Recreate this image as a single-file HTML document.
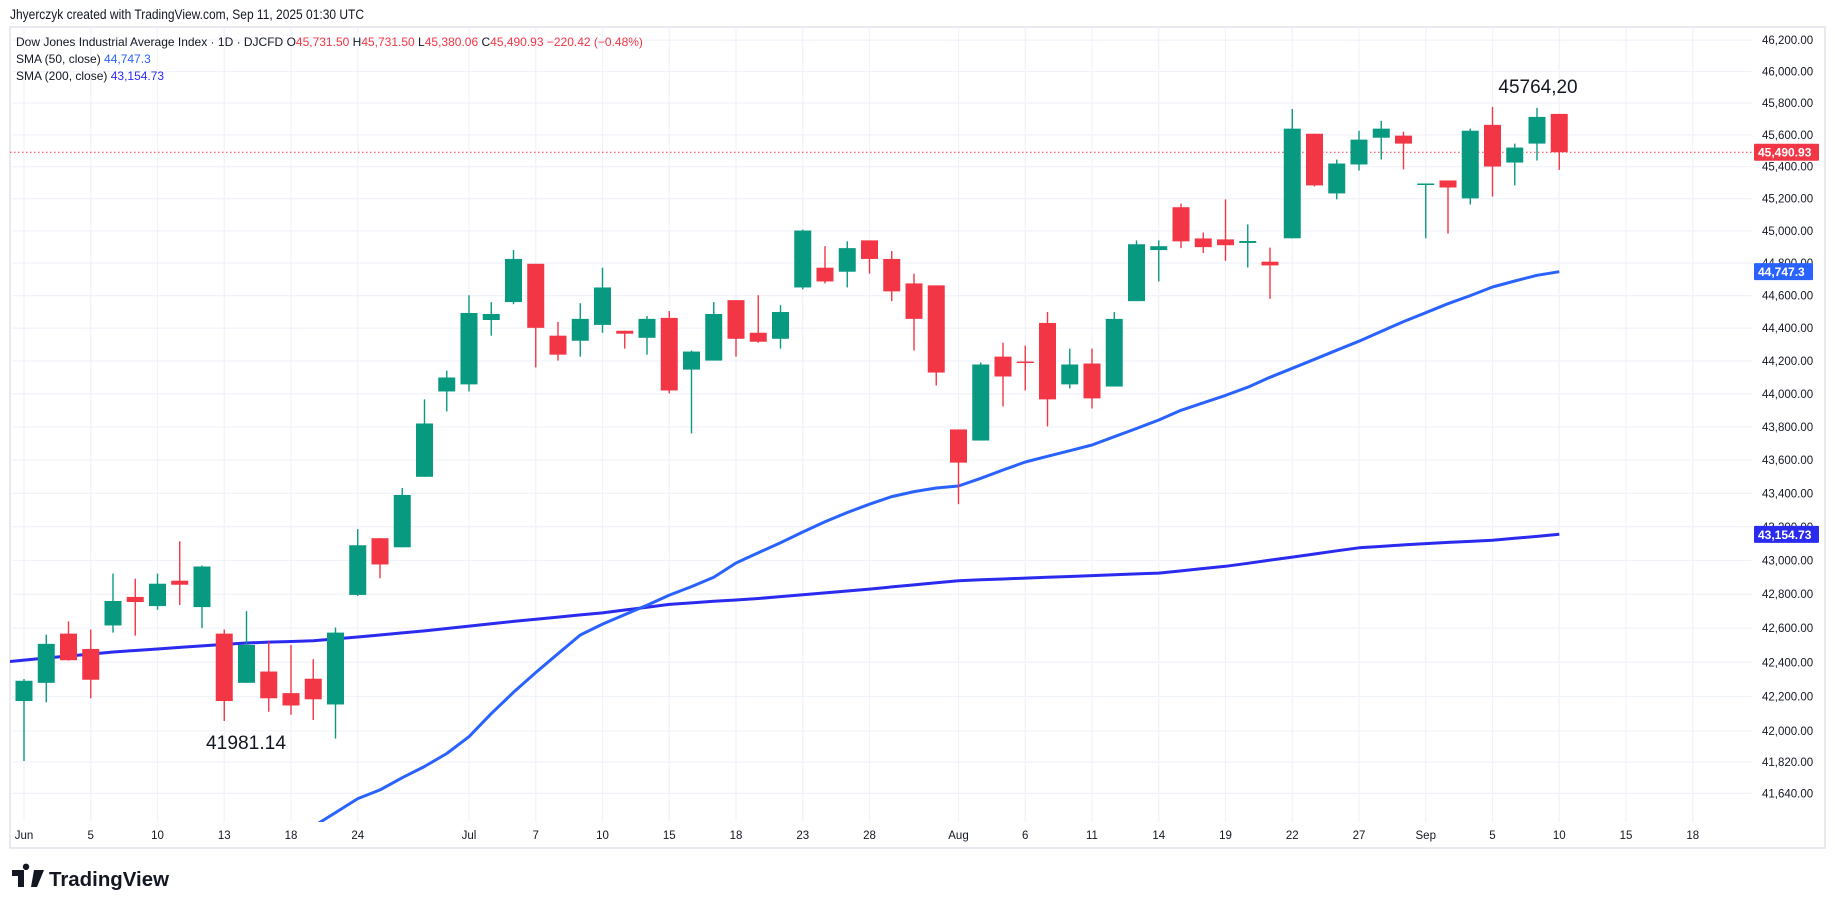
<!DOCTYPE html>
<html><head><meta charset="utf-8"><style>
html,body{margin:0;padding:0;background:#fff;}
svg{display:block;font-family:"Liberation Sans",sans-serif;}
</style></head><body>
<svg id="chart" width="1835" height="909" viewBox="0 0 1835 909" xmlns="http://www.w3.org/2000/svg">
<rect x="0" y="0" width="1835" height="909" fill="#fff"/>
<text x="10" y="19" font-size="14" fill="#131722" textLength="354" lengthAdjust="spacingAndGlyphs">Jhyerczyk created with TradingView.com, Sep 11, 2025 01:30 UTC</text>
<rect x="10" y="27" width="1815" height="821" fill="none" stroke="#e0e3eb" stroke-width="1.5"/>
<g id="grid"></g>
<g id="plot"></g>
<g id="axes"></g>
<g font-size="12">
 <text x="16" y="46" fill="#131722">Dow Jones Industrial Average Index · 1D · DJCFD <tspan fill="#131722">O</tspan><tspan fill="#f23645">45,731.50</tspan> <tspan fill="#131722">H</tspan><tspan fill="#f23645">45,731.50</tspan> <tspan fill="#131722">L</tspan><tspan fill="#f23645">45,380.06</tspan> <tspan fill="#131722">C</tspan><tspan fill="#f23645">45,490.93 −220.42 (−0.48%)</tspan></text>
 <text x="16" y="63" fill="#131722">SMA (50, close) <tspan fill="#2962ff">44,747.3</tspan></text>
 <text x="16" y="80" fill="#131722">SMA (200, close) <tspan fill="#2b2bf5">43,154.73</tspan></text>
</g>
<text x="1538" y="93" font-size="19" text-anchor="middle" fill="#131722">45764,20</text>
<text x="246" y="749" font-size="19" text-anchor="middle" fill="#131722" textLength="80" lengthAdjust="spacingAndGlyphs">41981.14</text>
<g>
 <path d="M12 870 h12 v17 h-6 v-11 h-6z M26 870 a3.2 3.2 0 1 1 0.01 0z M34 870 h10 l-7 17 h-6z" fill="#131722"/>
 <text x="49" y="886" font-size="20" font-weight="bold" fill="#131722" textLength="120" lengthAdjust="spacingAndGlyphs">TradingView</text>
</g>
</svg>
<script>
const opens  = [42174,42280,42568,42478,42616,42784,42730,42880,42724,42568,42280,42346,42220,42304,42154,42796,43132,43078,43499,44014,44057,44450,44560,44796,44354,44323,44420,44384,44341,44463,44147,44202,44572,44372,44335,44650,44772,44747,44941,44826,44675,44663,43784,43717,44226,44196,44432,44057,44184,44044,44566,44881,45147,44953,44947,44925,44809,44954,45607,45233,45414,45582,45595,45290,45314,45202,45663,45426,45545,45732];
const highs  = [42302,42562,42640,42592,42922,42892,42922,43114,42970,42592,42700,42520,42502,42418,42604,43186,43132,43432,43966,44141,44602,44560,44881,44796,44438,44553,44772,44384,44475,44505,44263,44560,44572,44602,44541,45008,44905,44935,44941,44875,44735,44663,43784,44190,44311,44293,44499,44275,44275,44499,44941,44941,45170,44990,45196,45040,44896,45763,45607,45445,45626,45688,45620,45295,45314,45639,45776,45545,45770,45732];
const lows   = [41826,42166,42410,42190,42574,42556,42708,42736,42600,42058,42280,42112,42094,42064,41956,42790,42894,43078,43499,43893,44014,44354,44547,44160,44202,44226,44372,44275,44238,44002,43760,44202,44226,44311,44275,44638,44675,44650,44735,44566,44263,44050,43335,43717,43923,44020,43802,44032,43911,44044,44566,44687,44893,44863,44814,44773,44580,44954,45277,45196,45376,45445,45383,44954,44983,45164,45214,45283,45439,45380];
const closes = [42292,42508,42412,42298,42760,42754,42862,42856,42964,42174,42502,42190,42148,42184,42574,43090,42976,43390,43820,44099,44493,44487,44826,44402,44238,44457,44650,44366,44457,44020,44257,44487,44335,44317,44499,45002,44687,44893,44826,44626,44457,44129,43584,44178,44105,44190,43966,44178,43972,44457,44917,44905,44935,44899,44911,44937,44786,45639,45283,45420,45570,45639,45545,45295,45270,45626,45401,45520,45713,45491];
const sma50Start = 13;
const sma50 = [41450,41530,41610,41660,41730,41795,41870,41967,42101,42225,42340,42450,42560,42624,42680,42735,42795,42845,42900,42985,43045,43105,43169,43230,43285,43335,43380,43410,43432,43444,43490,43540,43588,43622,43656,43690,43740,43790,43841,43900,43945,43990,44040,44100,44155,44210,44265,44320,44380,44440,44495,44550,44600,44653,44690,44725,44747];
const sma200Start = -1;
const sma200 = [42400,42413,42425,42437,42448,42460,42469,42478,42487,42496,42505,42513,42518,42522,42526,42537,42548,42560,42572,42584,42598,42612,42626,42640,42653,42665,42678,42690,42707,42723,42740,42749,42758,42766,42775,42786,42797,42808,42819,42830,42843,42855,42868,42880,42885,42890,42895,42900,42905,42910,42915,42920,42925,42938,42952,42965,42983,43002,43020,43038,43057,43075,43083,43092,43100,43107,43113,43120,43132,43143,43155];
const priceTicks = [46200,46000,45800,45600,45400,45200,45000,44800,44600,44400,44200,44000,43800,43600,43400,43200,43000,42800,42600,42400,42200,42000,41820,41640];
const dateLabels = ["Jun","5","10","13","18","24","Jul","7","10","15","18","23","28","Aug","6","11","14","19","22","27","Sep","5","10","15","18"];
const dateIdx = [0,3,6,9,12,15,20,23,26,29,32,35,38,42,45,48,51,54,57,60,63,66,69,72,75];
const lastPrice = 45490.93, lastSma50 = 44747.3, lastSma200 = 43154.73;

const NS="http://www.w3.org/2000/svg";
const PL=10, PR=1752, PT=27, PB=822;
function xS(i){return 24+22.25*i;}
function yS(v){return 493.3-7249*Math.log(v/43400);}
function mk(tag,attrs,parent){const e=document.createElementNS(NS,tag);for(const k in attrs)e.setAttribute(k,attrs[k]);parent.appendChild(e);return e;}
function fmt(v,d){return v.toLocaleString('en-US',{minimumFractionDigits:d,maximumFractionDigits:d});}
const svg=document.getElementById('chart');
const grid=document.getElementById('grid'), plot=document.getElementById('plot'), axes=document.getElementById('axes');
const defs=mk('defs',{},svg);
const cp=mk('clipPath',{id:'clip'},defs);
mk('rect',{x:PL,y:PT,width:PR-PL,height:PB-PT},cp);
plot.setAttribute('clip-path','url(#clip)');

priceTicks.forEach(function(v){
  const y=yS(v);
  const g=mk('line',{x1:PL,x2:PR,y1:y,y2:y,stroke:'#f0f3fa','stroke-width':1.2},grid);
  
  
  const t=mk('text',{x:1762,y:y+4,'font-size':11.5,fill:'#131722'},axes);
  
  
  t.textContent=fmt(v,2);
});
dateIdx.forEach(function(i,k){
  const x=xS(i);
  const g=mk('line',{x1:x,x2:x,y1:PT,y2:PB,stroke:'#f0f3fa','stroke-width':1.2},grid);
  
  
  const t=mk('text',{x:x,y:839,'font-size':11.5,fill:'#131722','text-anchor':'middle'},axes);
  
  
  t.textContent=dateLabels[k];
});

const dl=mk('line',{x1:PL,x2:PR,y1:yS(lastPrice),y2:yS(lastPrice),stroke:'#f23645','stroke-width':1,'stroke-dasharray':'1.5 2.5'},plot);



function linePath(arr,start){let d='';arr.forEach(function(v,k){d+=(k?'L':'M')+xS(start+k).toFixed(1)+' '+yS(v).toFixed(1);});return d;}
const s200=mk('path',{d:linePath(sma200,sma200Start),fill:'none',stroke:'#2b2bf0','stroke-width':3,'stroke-linejoin':'round'},plot);


const s50=mk('path',{d:linePath(sma50,sma50Start),fill:'none',stroke:'#2962ff','stroke-width':3,'stroke-linejoin':'round'},plot);



const bw=17;
opens.forEach(function(o,i){
  const c=closes[i], h=highs[i], l=lows[i];
  const col=c>=o?'#089981':'#f23645';
  const x=xS(i);
  const g=mk('g',{},plot);
  
  
  mk('line',{x1:x,x2:x,y1:yS(h),y2:yS(l),stroke:col,'stroke-width':1.4},g);
  const yt=yS(Math.max(o,c)), yb=yS(Math.min(o,c));
  mk('rect',{x:x-bw/2,y:yt,width:bw,height:Math.max(yb-yt,1.5),fill:col},g);
});

function tag(v,label,col,w,name){
  const y=yS(v);
  const g=mk('g',{},axes);
  
  
  mk('rect',{x:1754,y:y-8.5,width:w,height:17,fill:col,rx:1},g);
  const t=mk('text',{x:1758,y:y+4.5,'font-size':12,'font-weight':'bold',fill:'#fff'},g);
  t.textContent=label;
}
tag(lastPrice,fmt(lastPrice,2),'#f23645',65,'last-price-tag');
tag(lastSma50,fmt(lastSma50,1),'#2962ff',59,'sma50-tag');
tag(lastSma200,fmt(lastSma200,2),'#2b2bf0',65,'sma200-tag');
</script>
</body></html>
